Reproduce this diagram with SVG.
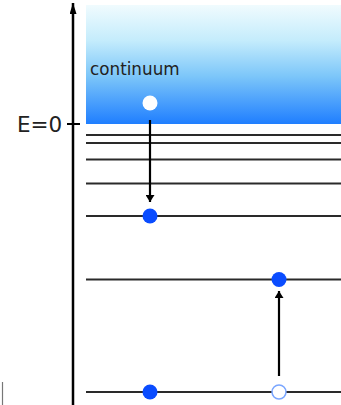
<svg xmlns="http://www.w3.org/2000/svg" width="341" height="405" viewBox="0 0 341 405">
  <defs>
    <linearGradient id="cont" x1="0" y1="0" x2="0" y2="1">
      <stop offset="0" stop-color="#f0fbfe"/>
      <stop offset="0.3" stop-color="#c4ecfc"/>
      <stop offset="0.6" stop-color="#7cc6f9"/>
      <stop offset="1" stop-color="#1f7eff"/>
    </linearGradient>
    <marker id="ah" viewBox="0 0 10 10" refX="10" refY="5" markerWidth="7" markerHeight="9" markerUnits="userSpaceOnUse" orient="auto" preserveAspectRatio="none">
      <path d="M0,0 L10,5 L0,10 z" fill="#000"/>
    </marker>
    <marker id="ahAxis" viewBox="0 0 10 10" refX="10" refY="5" markerWidth="11" markerHeight="7" markerUnits="userSpaceOnUse" orient="auto" preserveAspectRatio="none">
      <path d="M0,0 L10,5 L0,10 z" fill="#000"/>
    </marker>
  </defs>
  <style>
    .level { stroke: #2a2a2a; stroke-width: 2; fill: none; }
    .elec { fill: #0a4cff; }
    .hole { fill: #fff; stroke: #7aa6ff; stroke-width: 1.5; }
    .arrow { stroke: #000; stroke-width: 2.2; fill: none; marker-end: url(#ah); }
    .lbl { font-family: "DejaVu Sans", "Liberation Sans", sans-serif; fill: #222; }
  </style>

  <g id="continuum">
    <rect x="86" y="5" width="255" height="119" fill="url(#cont)"/>
    <text class="lbl" x="90" y="75" font-size="16.8">continuum</text>
  </g>

  <g id="axis">
    <line x1="73" y1="405" x2="73" y2="3" stroke="#000" stroke-width="2.5" marker-end="url(#ahAxis)"/>
    <line x1="67" y1="124" x2="80" y2="124" stroke="#000" stroke-width="2"/>
    <text class="lbl" x="17" y="132" font-size="21.5">E=0</text>
  </g>

  <g id="levels">
    <line class="level" x1="86" y1="135" x2="341" y2="135"/>
    <line class="level" x1="86" y1="143" x2="341" y2="143"/>
    <line class="level" x1="86" y1="159.5" x2="341" y2="159.5"/>
    <line class="level" x1="86" y1="183.5" x2="341" y2="183.5"/>
    <line class="level" x1="86" y1="216" x2="341" y2="216"/>
    <line class="level" x1="86" y1="279.5" x2="341" y2="279.5"/>
    <line class="level" x1="86" y1="392" x2="341" y2="392"/>
  </g>

  <g id="connectors">
    <line class="arrow" x1="150" y1="120" x2="150" y2="202"/>
    <line class="arrow" x1="279" y1="376" x2="279" y2="291"/>
  </g>

  <g id="free-electron"><circle cx="150" cy="103" r="7.5" fill="#fff"/></g>
  <g id="captured-electron"><circle class="elec" cx="150" cy="216" r="7.5"/></g>
  <g id="excited-electron"><circle class="elec" cx="279" cy="279.5" r="7.5"/></g>
  <g id="ground-electron"><circle class="elec" cx="150" cy="392" r="7.5"/></g>
  <g id="ground-hole"><circle class="hole" cx="279" cy="392" r="7"/></g>

  <line x1="2.5" y1="382" x2="2.5" y2="405" stroke="#777" stroke-width="1.2"/>
</svg>
